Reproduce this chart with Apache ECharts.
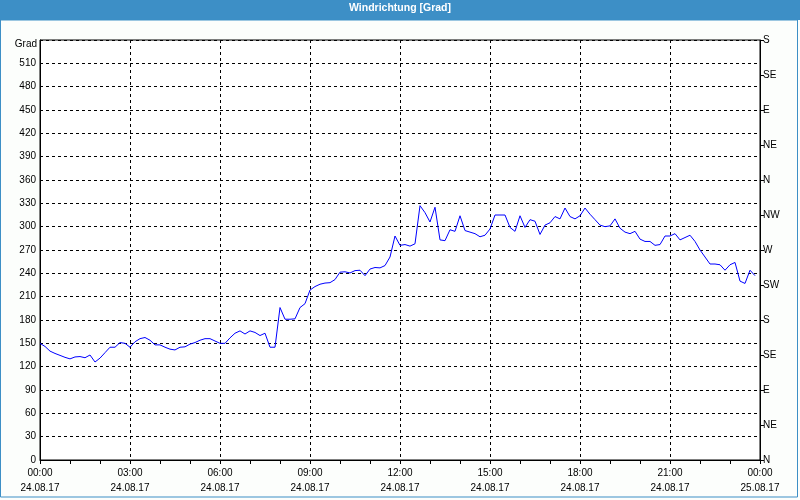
<!DOCTYPE html>
<html>
<head>
<meta charset="utf-8">
<script src="https://cdn.jsdelivr.net/npm/echarts@6/dist/echarts.min.js"></script>
<style>
html,body{margin:0;padding:0;background:#fcfefc;}
#chart{width:800px;height:500px;}
</style>
</head>
<body>
<div id="chart"></div>
<script>
// Wind direction readings every 10 minutes, 24.08.17 00:00 .. 23:50
const stepMinutes = 10;
const windDir = [
  150,146,140,137,134.5,132,130,132.5,133,131.5,
  135,126,131,138,145,145,151,150,145,152,
  156,157.5,154,148,148,145,142.5,141.5,145,145.5,
  149,151,154,156,156,153,150,150,157,163,
  166,162,166,164,160,163,145,145,196,181,
  181,181.5,196,201,218.5,223,226,227.5,228,232,
  241.5,242,240.5,243.5,244,237,245.5,247.5,247,250,
  261,288,276,277,275,278,327,318,306,325,
  283,282,296,294,314,295,293,291,287,289,
  297,315,315,315,299,294,314,299,309,307,
  290,302,305,313,310,324,313,310,314,324,
  316,309,302,300,301,310,298,293,291,294,
  284,281,281,276,277,288,288,291,283,286,
  289,281,270,261,252,252,251,244,251,254,
  230,227,244,237
];
const timeLabels = ['00:00','03:00','06:00','09:00','12:00','15:00','18:00','21:00','00:00'];
const dateLabels = ['24.08.17','24.08.17','24.08.17','24.08.17','24.08.17','24.08.17','24.08.17','24.08.17','25.08.17'];
const dirLabels = ['N','NE','E','SE','S','SW','W','NW','N','NE','E','SE','S'];

const seriesData = windDir.map((v, i) => [i * stepMinutes, v]);

const FONT = 'Liberation Sans';
const chart = echarts.init(document.getElementById('chart'), null, {renderer: 'canvas'});
chart.setOption({
  backgroundColor: '#fcfefc',
  animation: false,
  grid: {left: 40, right: 40, top: 40, bottom: 40, show: true, borderColor: '#000', borderWidth: 1, backgroundColor: '#ffffff'},
  graphic: [
    {type: 'rect', shape: {x: 0, y: 0, width: 800, height: 20}, style: {fill: '#3d8fc6'}, silent: true},
    {type: 'rect', shape: {x: 0.5, y: 20, width: 797, height: 477}, style: {fill: 'none', stroke: '#3d8fc6', lineWidth: 1}, silent: true},
    {type: 'text', left: 'center', top: 3, style: {text: 'Windrichtung [Grad]', fill: '#ffffff', font: 'bold 10.5px "Liberation Sans"'}, silent: true},
    {type: 'text', right: 763, top: 39, style: {text: 'Grad', fill: '#000', font: '10px "Liberation Sans"', textAlign: 'right'}, silent: true}
  ],
  xAxis: {
    type: 'value', min: 0, max: 1440, interval: 180,
    axisLine: {show: true, lineStyle: {color: '#000', width: 1}},
    axisTick: {show: true, length: 4, lineStyle: {color: '#000'}},
    minorTick: {show: true, splitNumber: 3, length: 4, lineStyle: {color: '#000'}},
    splitLine: {show: true, lineStyle: {color: '#000', type: [3, 3], width: 1}},
    axisLabel: {
      margin: 6, lineHeight: 15, color: '#000', fontFamily: FONT, fontSize: 10,
      formatter: v => { const i = Math.round(v / 180); return timeLabels[i] + '\n' + dateLabels[i]; }
    }
  },
  yAxis: [
    {
      type: 'value', min: 0, max: 540, interval: 30, position: 'left',
      axisLine: {show: true, lineStyle: {color: '#000'}},
      axisTick: {show: false},
      splitLine: {show: true, lineStyle: {color: '#000', type: [3, 3], width: 1}},
      axisLabel: {margin: 4, color: '#000', fontFamily: FONT, fontSize: 10,
        formatter: v => v === 540 ? '' : String(v)}
    },
    {
      type: 'value', min: 0, max: 540, interval: 45, position: 'right',
      axisLine: {show: true, lineStyle: {color: '#000'}},
      axisTick: {show: true, length: 4, lineStyle: {color: '#000'}},
      splitLine: {show: false},
      axisLabel: {margin: 3, color: '#000', fontFamily: FONT, fontSize: 10,
        formatter: v => dirLabels[Math.round(v / 45)]}
    }
  ],
  series: [{
    type: 'line', data: seriesData, yAxisIndex: 0,
    showSymbol: false, symbol: 'none',
    lineStyle: {color: '#0000ff', width: 1},
    z: 5
  }]
});
</script>
</body>
</html>
